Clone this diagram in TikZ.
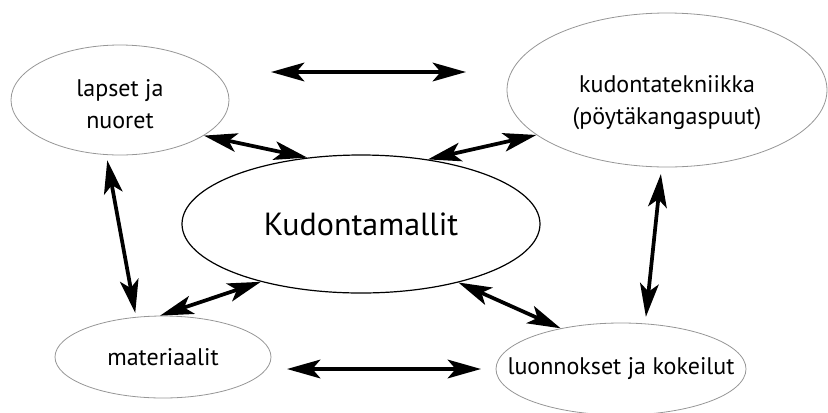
\documentclass[tikz,border=0pt]{standalone}
\usepackage{fontspec}
\setmainfont{PT Sans}
\usetikzlibrary{shapes.geometric, arrows.meta}
\definecolor{outlinegray}{RGB}{150, 150, 150}

\begin{document}
\begin{tikzpicture}[
  x=0.75pt, y=-0.75pt,
  topic/.style={ellipse, draw=outlinegray, line width=0.6pt, inner sep=0, align=center, font=\fontsize{18}{24}\selectfont},
  maintopic/.style={ellipse, draw=black, line width=0.9pt, inner sep=0, font=\fontsize{24}{28}\selectfont},
  link/.style={line width=2.8pt, {Stealth[length=25pt, width=14pt, inset=6pt]}-{Stealth[length=25pt, width=14pt, inset=6pt]}},
]

\useasboundingbox (0, 0) rectangle (828, 412);
\clip (0, 0) rectangle (828, 412);

% ==================== topics ====================
\node[maintopic, minimum width=268.5pt, minimum height=103.5pt] (mallit) at (361, 224) {Kudontamallit};
\node[topic, minimum width=163.5pt, minimum height=82.5pt] (lapset) at (120, 100) {\rule{0pt}{19pt}lapset ja\\nuoret};
\node[topic, minimum width=240pt, minimum height=115.5pt] (tekniikka) at (667, 90) {\rule{0pt}{31pt}kudontatekniikka\\(pöytäkangaspuut)};
\node[topic, minimum width=162pt, minimum height=61.5pt] (materiaalit) at (163, 357) {materiaalit};
\node[topic, inner xsep=-22pt, minimum width=187.5pt, minimum height=69pt] (luonnokset) at (621, 369) {luonnokset ja kokeilut};

% free arrow ends
\coordinate (top west) at (271, 72);
\coordinate (top east) at (466, 72);
\coordinate (bottom west) at (287, 369);
\coordinate (bottom east) at (481, 369);

% ==================== links ====================
\draw[link] (top west) -- (top east);
\draw[link] (bottom west) -- (bottom east);
\draw[link] (lapset.-23) -- (mallit.129);
\draw[link] (mallit.44) -- (tekniikka.-161);
\draw[link] (materiaalit.94) -- (mallit.-150);
\draw[link] (mallit.-31) -- (luonnokset.146);
\draw[link, shorten <=4pt, shorten >=3pt] (lapset.-104) -- (materiaalit.124);
\draw[link, shorten <=5pt, shorten >=5pt] (tekniikka.-94) -- (luonnokset.62);

\end{tikzpicture}
\end{document}
